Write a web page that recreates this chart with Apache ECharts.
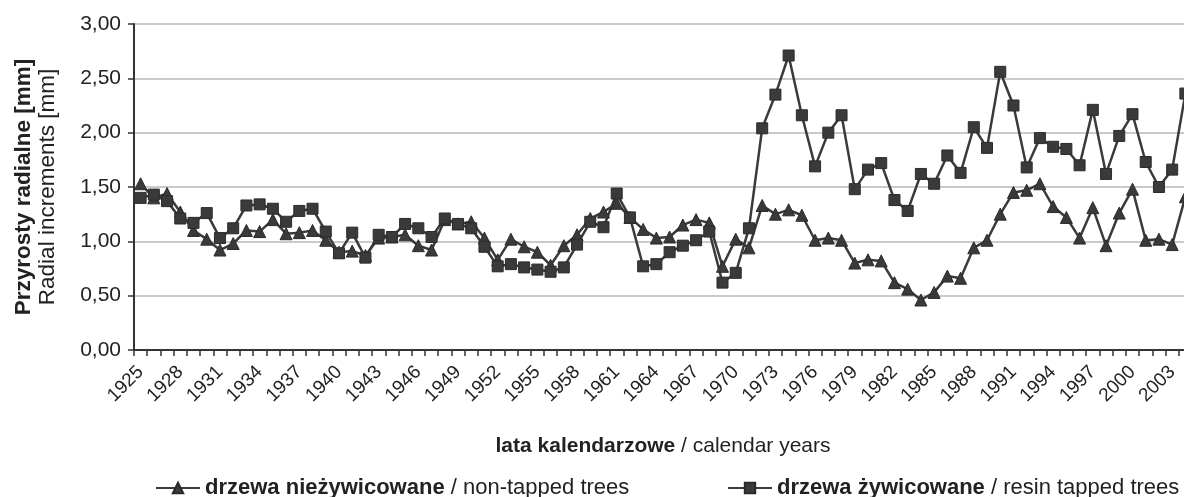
<!DOCTYPE html>
<html>
<head>
<meta charset="utf-8">
<script src="https://cdn.jsdelivr.net/npm/echarts@6/dist/echarts.min.js"></script>
<style>
html,body{margin:0;padding:0;background:#fff;}
#chart{width:1184px;height:497px;}
</style>
</head>
<body>
<div id="chart"></div>
<script>
const years = [
  '1925','1926','1927','1928','1929','1930','1931','1932','1933','1934',
  '1935','1936','1937','1938','1939','1940','1941','1942','1943','1944',
  '1945','1946','1947','1948','1949','1950','1951','1952','1953','1954',
  '1955','1956','1957','1958','1959','1960','1961','1962','1963','1964',
  '1965','1966','1967','1968','1969','1970','1971','1972','1973','1974',
  '1975','1976','1977','1978','1979','1980','1981','1982','1983','1984',
  '1985','1986','1987','1988','1989','1990','1991','1992','1993','1994',
  '1995','1996','1997','1998','1999','2000','2001','2002','2003','2004'
];
const nonTapped = [
  1.53,1.40,1.44,1.27,1.10,1.02,0.92,0.98,1.10,1.09,
  1.20,1.07,1.08,1.10,1.01,0.90,0.91,0.87,1.03,1.04,
  1.06,0.96,0.92,1.20,1.16,1.18,1.03,0.83,1.02,0.95,
  0.90,0.78,0.96,1.06,1.21,1.27,1.35,1.22,1.11,1.03,
  1.04,1.15,1.20,1.17,0.77,1.02,0.94,1.33,1.25,1.29,
  1.24,1.01,1.03,1.01,0.80,0.83,0.82,0.62,0.56,0.46,
  0.53,0.68,0.66,0.94,1.01,1.25,1.45,1.47,1.53,1.32,
  1.22,1.03,1.31,0.96,1.26,1.48,1.01,1.02,0.97,1.41
];
const tapped = [
  1.40,1.43,1.37,1.21,1.17,1.26,1.03,1.12,1.33,1.34,
  1.30,1.18,1.28,1.30,1.09,0.89,1.08,0.85,1.06,1.04,
  1.16,1.12,1.04,1.21,1.16,1.12,0.95,0.77,0.79,0.76,
  0.74,0.72,0.76,0.97,1.18,1.13,1.44,1.22,0.77,0.79,
  0.90,0.96,1.01,1.09,0.62,0.71,1.12,2.04,2.35,2.71,
  2.16,1.69,2.00,2.16,1.48,1.66,1.72,1.38,1.28,1.62,
  1.53,1.79,1.63,2.05,1.86,2.56,2.25,1.68,1.95,1.87,
  1.85,1.70,2.21,1.62,1.97,2.17,1.73,1.50,1.66,2.36
];
const seriesNames = ['drzewa nieżywicowane / non-tapped trees', 'drzewa żywicowane / resin tapped trees'];
const yAxisTitle = ['Przyrosty radialne [mm]', 'Radial increments [mm]'];
const xAxisTitle = ['lata kalendarzowe', 'calendar years'];

const FONT = '"Liberation Sans", Arial, sans-serif';
const DARK = '#3a3a3a';
const TXT = '#222';
const chart = echarts.init(document.getElementById('chart'), null, {renderer:'canvas'});

function legendFmt(name){
  const i = name.indexOf(' / ');
  return '{b|' + name.slice(0, i) + '}{r| / ' + name.slice(i + 3) + '}';
}
function rich(size, lh){
  return {
    b:{fontWeight:'bold', fontSize:size, fontFamily:FONT, color:TXT, lineHeight:lh},
    r:{fontWeight:'normal', fontSize:size, fontFamily:FONT, color:TXT, lineHeight:lh}
  };
}

chart.setOption({
  animation:false,
  backgroundColor:'#fff',
  grid:{left:134, top:24, right:-8, bottom:147, containLabel:false, outerBoundsMode:'none'},
  legend:[
    {data:[seriesNames[0]], left:150, top:472, itemWidth:44, itemHeight:13, itemGap:10,
     formatter:legendFmt, textStyle:{rich:rich(22, 26)}},
    {data:[seriesNames[1]], left:722, top:472, itemWidth:44, itemHeight:13, itemGap:10,
     formatter:legendFmt, textStyle:{rich:rich(22, 26)}}
  ],
  xAxis:{
    type:'category',
    data:years,
    boundaryGap:true,
    name:'{b|' + xAxisTitle[0] + '}{r| / ' + xAxisTitle[1] + '}',
    nameLocation:'middle',
    nameGap:84,
    nameTextStyle:{rich:rich(21, 24)},
    axisLine:{lineStyle:{color:'#333', width:2}},
    axisTick:{show:true, interval:0, length:6, lineStyle:{color:'#333', width:1.5}},
    axisLabel:{interval:2, rotate:45, fontSize:19, fontFamily:FONT, color:TXT, margin:19},
    splitLine:{show:false}
  },
  yAxis:{
    type:'value',
    min:0, max:3, interval:0.5,
    name:'{b|' + yAxisTitle[0] + '}\n{r|' + yAxisTitle[1] + '}',
    nameLocation:'middle',
    nameRotate:90,
    nameGap:74,
    nameTextStyle:{rich:rich(22.5, 24)},
    axisLine:{show:true, lineStyle:{color:'#333', width:2}},
    axisTick:{show:true, length:6, lineStyle:{color:'#333', width:1.5}},
    axisLabel:{fontSize:21, fontFamily:FONT, color:TXT, margin:13,
      formatter:v => v.toFixed(2).replace('.', ',')},
    splitLine:{show:true, lineStyle:{color:'#b8b8b8', width:1.5}}
  },
  series:[
    {name:seriesNames[0], type:'line', data:nonTapped, symbol:'triangle', symbolSize:12,
     showAllSymbol:true, clip:true,
     lineStyle:{color:DARK, width:2.5},
     itemStyle:{color:DARK, borderColor:'#2b2b2b', borderWidth:1}},
    {name:seriesNames[1], type:'line', data:tapped, symbol:'rect', symbolSize:11,
     showAllSymbol:true, clip:true,
     lineStyle:{color:DARK, width:2.5},
     itemStyle:{color:DARK, borderColor:'#2b2b2b', borderWidth:1}}
  ]
});
</script>
</body>
</html>
